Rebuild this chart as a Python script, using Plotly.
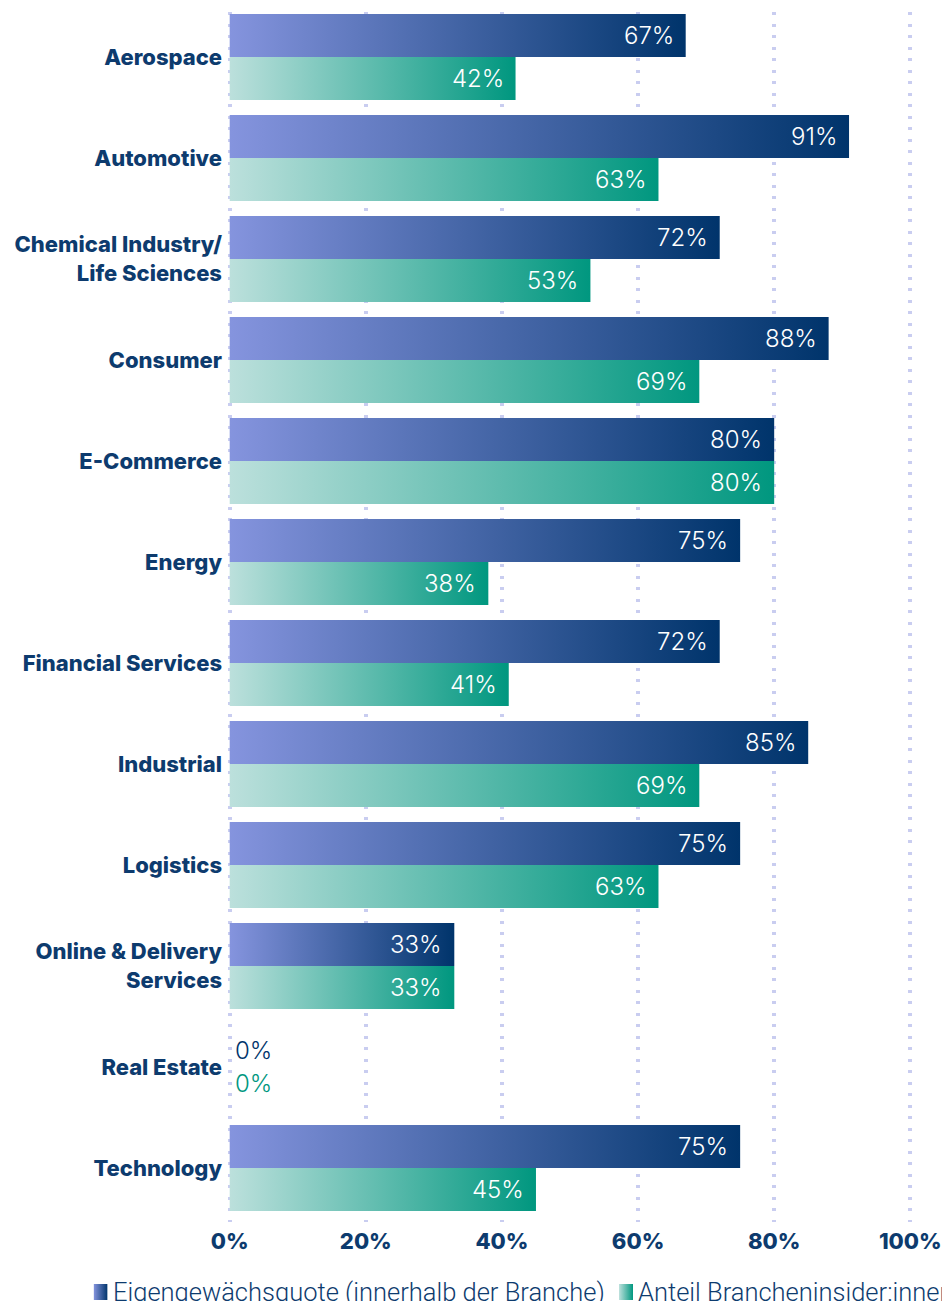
import base64
import plotly.graph_objects as go

# ---- data -------------------------------------------------------------
categories = [
    "Aerospace",
    "Automotive",
    "Chemical Industry/<br>Life Sciences",
    "Consumer",
    "E-Commerce",
    "Energy",
    "Financial Services",
    "Industrial",
    "Logistics",
    "Online & Delivery<br>Services",
    "Real Estate",
    "Technology",
]
eigengewaechsquote = [67, 91, 72, 88, 80, 75, 72, 85, 75, 33, 0, 75]
brancheninsider = [42, 63, 53, 69, 80, 38, 41, 69, 63, 33, 0, 45]
x_ticks = [0, 20, 40, 60, 80, 100]
series_names = [
    "Eigengewächsquote (innerhalb der Branche)",
    "Anteil Brancheninsider:innen",
]

# ---- styling ----------------------------------------------------------
W, H = 942, 1301
NAVY = "#0d3b6e"
GRID = "#c9cdf0"
GRAD_BLUE = ("#8594de", "#00346b")
GRAD_TEAL = ("#bce0dc", "#00977f")
LABEL_FONT = "Inter"

# pixel geometry of the plotting area
PX_LEFT, PX_RIGHT = 228.3, 911.7      # x = -0.25 .. 100.25
PX_TOP, PX_BOTTOM = 12, 1222
X_RANGE = [-0.25, 100.25]
ROW_PX = 101.0                          # distance between category rows
FIRST_ROW_PX = 57
Y_TOP = -(FIRST_ROW_PX - PX_TOP) / ROW_PX
Y_BOTTOM = (PX_BOTTOM - FIRST_ROW_PX) / ROW_PX
HALF = 43 / ROW_PX                      # height of one bar in row units

fig = go.Figure()


def add_bar(value, y0, y1, grad):
    """One bar as a filled outline with a left-to-right colour gradient."""
    fig.add_trace(
        go.Scatter(
            x=[0, value, value, 0, 0],
            y=[y0, y0, y1, y1, y0],
            mode="lines",
            line=dict(width=0),
            fill="toself",
            fillgradient=dict(
                type="horizontal",
                colorscale=[[0, grad[0]], [1, grad[1]]],
            ),
            hoverinfo="skip",
            showlegend=False,
        )
    )


annotations = []
for i, (a, b) in enumerate(zip(eigengewaechsquote, brancheninsider)):
    for value, y0, y1, grad in (
        (a, i - HALF, i, GRAD_BLUE),
        (b, i, i + HALF, GRAD_TEAL),
    ):
        yc = (y0 + y1) / 2
        if value > 0:
            add_bar(value, y0, y1, grad)
            annotations.append(
                dict(
                    x=value, y=yc, xref="x", yref="y",
                    text=f"{value}%", showarrow=False,
                    xanchor="right", yanchor="middle", xshift=-10,
                    font=dict(family=LABEL_FONT, size=24, color="white", weight=300),
                )
            )
        else:
            annotations.append(
                dict(
                    x=0, y=yc + (0.05 if grad is GRAD_BLUE else -0.05),
                    xref="x", yref="y",
                    text=f"{value}%", showarrow=False,
                    xanchor="left", yanchor="middle", xshift=3,
                    font=dict(family=LABEL_FONT, size=24, color=grad[1], weight=300),
                )
            )

# ---- legend (drawn below the axis) -----------------------------------
plot_w = PX_RIGHT - PX_LEFT
plot_h = PX_BOTTOM - PX_TOP


def paper_x(px):
    return (px - PX_LEFT) / plot_w


def paper_y(py):
    return (PX_BOTTOM - py) / plot_h


def gradient_square(c0, c1):
    svg = (
        '<svg xmlns="http://www.w3.org/2000/svg" width="14" height="16">'
        '<defs><linearGradient id="g" x1="0" y1="0" x2="1" y2="0">'
        f'<stop offset="0" stop-color="{c0}"/><stop offset="1" stop-color="{c1}"/>'
        '</linearGradient></defs><rect width="14" height="16" fill="url(#g)"/></svg>'
    )
    return "data:image/svg+xml;base64," + base64.b64encode(svg.encode()).decode()


images = []
for name, grad, px in ((series_names[0], GRAD_BLUE, 94), (series_names[1], GRAD_TEAL, 619)):
    images.append(
        dict(
            source=gradient_square(*grad),
            xref="paper", yref="paper",
            x=paper_x(px), y=paper_y(1284),
            sizex=14 / plot_w, sizey=16 / plot_h,
            sizing="stretch", xanchor="left", yanchor="top", layer="above",
        )
    )
    annotations.append(
        dict(
            x=paper_x(px + 17), y=paper_y(1292),
            xref="paper", yref="paper",
            text=name, showarrow=False,
            xanchor="left", yanchor="middle",
            font=dict(family="Roboto", size=25.5, color=NAVY, weight=300),
        )
    )

fig.update_layout(
    width=W,
    height=H,
    margin=dict(l=PX_LEFT, r=W - PX_RIGHT, t=PX_TOP, b=H - PX_BOTTOM, pad=0),
    paper_bgcolor="white",
    plot_bgcolor="white",
    showlegend=False,
    annotations=annotations,
    images=images,
    xaxis=dict(
        range=X_RANGE,
        tickvals=x_ticks,
        ticktext=[f"{t}%" for t in x_ticks],
        showgrid=True,
        gridcolor=GRID,
        gridwidth=3.5,
        griddash="3px,8.5px",
        zeroline=False,
        showline=False,
        ticks="",
        ticklabelstandoff=4,
        automargin=False,
        tickfont=dict(family=LABEL_FONT, size=22, color=NAVY, weight=800),
        fixedrange=True,
    ),
    yaxis=dict(
        range=[Y_BOTTOM, Y_TOP],
        tickvals=list(range(len(categories))),
        ticktext=categories,
        showgrid=False,
        zeroline=False,
        showline=False,
        ticks="",
        ticklabelstandoff=5,
        automargin=False,
        tickfont=dict(family=LABEL_FONT, size=22, color=NAVY, weight=800),
        fixedrange=True,
    ),
)

fig.write_html("out.html")
